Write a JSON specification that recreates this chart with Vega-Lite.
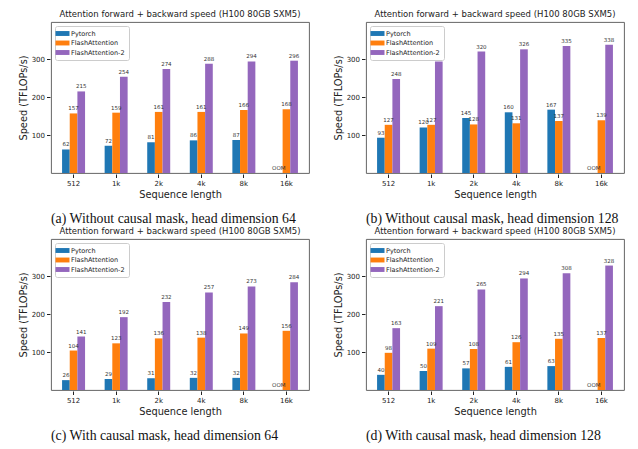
{
 "$schema": "https://vega.github.io/schema/vega-lite/v6.json",
 "background": "white",
 "padding": {"left": 18, "top": 9, "right": 5, "bottom": 0},
 "config": {
  "font": "DejaVu Sans",
  "view": {"stroke": "#555", "strokeWidth": 0.9},
  "axis": {"grid": false, "domain": false, "tickColor": "#222", "tickSize": 3.5, "labelPadding": 2, "labelColor": "#222", "labelFontSize": 7, "titleFontSize": 9.8, "titleFontWeight": "normal", "titleColor": "#222", "titlePadding": 3},
  "axisX": {"titlePadding": 3},
  "header": {"titleOrient": "bottom", "labelOrient": "top", "labelFontSize": 8.5, "labelColor": "#222", "labelPadding": 3, "titleFont": "Liberation Serif", "titleFontSize": 13.8, "titleFontWeight": "normal", "titleColor": "#111", "titlePadding": 2, "titleAnchor": "start"},
  "legend": {"orient": "top-left", "title": null, "labelFontSize": 6.5, "labelColor": "#222", "symbolType": "M-2,-0.7H2V0.7H-2Z", "symbolSize": 49, "symbolStrokeWidth": 0, "strokeColor": "#ccc", "padding": 4, "cornerRadius": 2, "fillColor": "white", "offset": 3.5, "rowPadding": 2.5, "labelOffset": 5}
 },
 "datasets": {
  "d": [
   {"panel": "a", "head": "Attention forward + backward speed (H100 80GB SXM5)", "seq": "512", "method": "Pytorch", "value": 62, "label": "62"},
   {"panel": "a", "head": "Attention forward + backward speed (H100 80GB SXM5)", "seq": "1k", "method": "Pytorch", "value": 72, "label": "72"},
   {"panel": "a", "head": "Attention forward + backward speed (H100 80GB SXM5)", "seq": "2k", "method": "Pytorch", "value": 81, "label": "81"},
   {"panel": "a", "head": "Attention forward + backward speed (H100 80GB SXM5)", "seq": "4k", "method": "Pytorch", "value": 86, "label": "86"},
   {"panel": "a", "head": "Attention forward + backward speed (H100 80GB SXM5)", "seq": "8k", "method": "Pytorch", "value": 87, "label": "87"},
   {"panel": "a", "head": "Attention forward + backward speed (H100 80GB SXM5)", "seq": "16k", "method": "Pytorch", "value": 0, "label": "OOM"},
   {"panel": "a", "head": "Attention forward + backward speed (H100 80GB SXM5)", "seq": "512", "method": "FlashAttention", "value": 157, "label": "157"},
   {"panel": "a", "head": "Attention forward + backward speed (H100 80GB SXM5)", "seq": "1k", "method": "FlashAttention", "value": 159, "label": "159"},
   {"panel": "a", "head": "Attention forward + backward speed (H100 80GB SXM5)", "seq": "2k", "method": "FlashAttention", "value": 161, "label": "161"},
   {"panel": "a", "head": "Attention forward + backward speed (H100 80GB SXM5)", "seq": "4k", "method": "FlashAttention", "value": 161, "label": "161"},
   {"panel": "a", "head": "Attention forward + backward speed (H100 80GB SXM5)", "seq": "8k", "method": "FlashAttention", "value": 166, "label": "166"},
   {"panel": "a", "head": "Attention forward + backward speed (H100 80GB SXM5)", "seq": "16k", "method": "FlashAttention", "value": 168, "label": "168"},
   {"panel": "a", "head": "Attention forward + backward speed (H100 80GB SXM5)", "seq": "512", "method": "FlashAttention-2", "value": 215, "label": "215"},
   {"panel": "a", "head": "Attention forward + backward speed (H100 80GB SXM5)", "seq": "1k", "method": "FlashAttention-2", "value": 254, "label": "254"},
   {"panel": "a", "head": "Attention forward + backward speed (H100 80GB SXM5)", "seq": "2k", "method": "FlashAttention-2", "value": 274, "label": "274"},
   {"panel": "a", "head": "Attention forward + backward speed (H100 80GB SXM5)", "seq": "4k", "method": "FlashAttention-2", "value": 288, "label": "288"},
   {"panel": "a", "head": "Attention forward + backward speed (H100 80GB SXM5)", "seq": "8k", "method": "FlashAttention-2", "value": 294, "label": "294"},
   {"panel": "a", "head": "Attention forward + backward speed (H100 80GB SXM5)", "seq": "16k", "method": "FlashAttention-2", "value": 296, "label": "296"},
   {"panel": "b", "head": "Attention forward + backward speed (H100 80GB SXM5)", "seq": "512", "method": "Pytorch", "value": 93, "label": "93"},
   {"panel": "b", "head": "Attention forward + backward speed (H100 80GB SXM5)", "seq": "1k", "method": "Pytorch", "value": 120, "label": "120"},
   {"panel": "b", "head": "Attention forward + backward speed (H100 80GB SXM5)", "seq": "2k", "method": "Pytorch", "value": 145, "label": "145"},
   {"panel": "b", "head": "Attention forward + backward speed (H100 80GB SXM5)", "seq": "4k", "method": "Pytorch", "value": 160, "label": "160"},
   {"panel": "b", "head": "Attention forward + backward speed (H100 80GB SXM5)", "seq": "8k", "method": "Pytorch", "value": 167, "label": "167"},
   {"panel": "b", "head": "Attention forward + backward speed (H100 80GB SXM5)", "seq": "16k", "method": "Pytorch", "value": 0, "label": "OOM"},
   {"panel": "b", "head": "Attention forward + backward speed (H100 80GB SXM5)", "seq": "512", "method": "FlashAttention", "value": 127, "label": "127"},
   {"panel": "b", "head": "Attention forward + backward speed (H100 80GB SXM5)", "seq": "1k", "method": "FlashAttention", "value": 127, "label": "127"},
   {"panel": "b", "head": "Attention forward + backward speed (H100 80GB SXM5)", "seq": "2k", "method": "FlashAttention", "value": 128, "label": "128"},
   {"panel": "b", "head": "Attention forward + backward speed (H100 80GB SXM5)", "seq": "4k", "method": "FlashAttention", "value": 131, "label": "131"},
   {"panel": "b", "head": "Attention forward + backward speed (H100 80GB SXM5)", "seq": "8k", "method": "FlashAttention", "value": 137, "label": "137"},
   {"panel": "b", "head": "Attention forward + backward speed (H100 80GB SXM5)", "seq": "16k", "method": "FlashAttention", "value": 139, "label": "139"},
   {"panel": "b", "head": "Attention forward + backward speed (H100 80GB SXM5)", "seq": "512", "method": "FlashAttention-2", "value": 248, "label": "248"},
   {"panel": "b", "head": "Attention forward + backward speed (H100 80GB SXM5)", "seq": "1k", "method": "FlashAttention-2", "value": 294, "label": "294"},
   {"panel": "b", "head": "Attention forward + backward speed (H100 80GB SXM5)", "seq": "2k", "method": "FlashAttention-2", "value": 320, "label": "320"},
   {"panel": "b", "head": "Attention forward + backward speed (H100 80GB SXM5)", "seq": "4k", "method": "FlashAttention-2", "value": 326, "label": "326"},
   {"panel": "b", "head": "Attention forward + backward speed (H100 80GB SXM5)", "seq": "8k", "method": "FlashAttention-2", "value": 335, "label": "335"},
   {"panel": "b", "head": "Attention forward + backward speed (H100 80GB SXM5)", "seq": "16k", "method": "FlashAttention-2", "value": 338, "label": "338"},
   {"panel": "c", "head": "Attention forward + backward speed (H100 80GB SXM5)", "seq": "512", "method": "Pytorch", "value": 26, "label": "26"},
   {"panel": "c", "head": "Attention forward + backward speed (H100 80GB SXM5)", "seq": "1k", "method": "Pytorch", "value": 29, "label": "29"},
   {"panel": "c", "head": "Attention forward + backward speed (H100 80GB SXM5)", "seq": "2k", "method": "Pytorch", "value": 31, "label": "31"},
   {"panel": "c", "head": "Attention forward + backward speed (H100 80GB SXM5)", "seq": "4k", "method": "Pytorch", "value": 32, "label": "32"},
   {"panel": "c", "head": "Attention forward + backward speed (H100 80GB SXM5)", "seq": "8k", "method": "Pytorch", "value": 32, "label": "32"},
   {"panel": "c", "head": "Attention forward + backward speed (H100 80GB SXM5)", "seq": "16k", "method": "Pytorch", "value": 0, "label": "OOM"},
   {"panel": "c", "head": "Attention forward + backward speed (H100 80GB SXM5)", "seq": "512", "method": "FlashAttention", "value": 104, "label": "104"},
   {"panel": "c", "head": "Attention forward + backward speed (H100 80GB SXM5)", "seq": "1k", "method": "FlashAttention", "value": 123, "label": "123"},
   {"panel": "c", "head": "Attention forward + backward speed (H100 80GB SXM5)", "seq": "2k", "method": "FlashAttention", "value": 136, "label": "136"},
   {"panel": "c", "head": "Attention forward + backward speed (H100 80GB SXM5)", "seq": "4k", "method": "FlashAttention", "value": 138, "label": "138"},
   {"panel": "c", "head": "Attention forward + backward speed (H100 80GB SXM5)", "seq": "8k", "method": "FlashAttention", "value": 149, "label": "149"},
   {"panel": "c", "head": "Attention forward + backward speed (H100 80GB SXM5)", "seq": "16k", "method": "FlashAttention", "value": 156, "label": "156"},
   {"panel": "c", "head": "Attention forward + backward speed (H100 80GB SXM5)", "seq": "512", "method": "FlashAttention-2", "value": 141, "label": "141"},
   {"panel": "c", "head": "Attention forward + backward speed (H100 80GB SXM5)", "seq": "1k", "method": "FlashAttention-2", "value": 192, "label": "192"},
   {"panel": "c", "head": "Attention forward + backward speed (H100 80GB SXM5)", "seq": "2k", "method": "FlashAttention-2", "value": 232, "label": "232"},
   {"panel": "c", "head": "Attention forward + backward speed (H100 80GB SXM5)", "seq": "4k", "method": "FlashAttention-2", "value": 257, "label": "257"},
   {"panel": "c", "head": "Attention forward + backward speed (H100 80GB SXM5)", "seq": "8k", "method": "FlashAttention-2", "value": 273, "label": "273"},
   {"panel": "c", "head": "Attention forward + backward speed (H100 80GB SXM5)", "seq": "16k", "method": "FlashAttention-2", "value": 284, "label": "284"},
   {"panel": "d", "head": "Attention forward + backward speed (H100 80GB SXM5)", "seq": "512", "method": "Pytorch", "value": 40, "label": "40"},
   {"panel": "d", "head": "Attention forward + backward speed (H100 80GB SXM5)", "seq": "1k", "method": "Pytorch", "value": 50, "label": "50"},
   {"panel": "d", "head": "Attention forward + backward speed (H100 80GB SXM5)", "seq": "2k", "method": "Pytorch", "value": 57, "label": "57"},
   {"panel": "d", "head": "Attention forward + backward speed (H100 80GB SXM5)", "seq": "4k", "method": "Pytorch", "value": 61, "label": "61"},
   {"panel": "d", "head": "Attention forward + backward speed (H100 80GB SXM5)", "seq": "8k", "method": "Pytorch", "value": 63, "label": "63"},
   {"panel": "d", "head": "Attention forward + backward speed (H100 80GB SXM5)", "seq": "16k", "method": "Pytorch", "value": 0, "label": "OOM"},
   {"panel": "d", "head": "Attention forward + backward speed (H100 80GB SXM5)", "seq": "512", "method": "FlashAttention", "value": 98, "label": "98"},
   {"panel": "d", "head": "Attention forward + backward speed (H100 80GB SXM5)", "seq": "1k", "method": "FlashAttention", "value": 109, "label": "109"},
   {"panel": "d", "head": "Attention forward + backward speed (H100 80GB SXM5)", "seq": "2k", "method": "FlashAttention", "value": 108, "label": "108"},
   {"panel": "d", "head": "Attention forward + backward speed (H100 80GB SXM5)", "seq": "4k", "method": "FlashAttention", "value": 126, "label": "126"},
   {"panel": "d", "head": "Attention forward + backward speed (H100 80GB SXM5)", "seq": "8k", "method": "FlashAttention", "value": 135, "label": "135"},
   {"panel": "d", "head": "Attention forward + backward speed (H100 80GB SXM5)", "seq": "16k", "method": "FlashAttention", "value": 137, "label": "137"},
   {"panel": "d", "head": "Attention forward + backward speed (H100 80GB SXM5)", "seq": "512", "method": "FlashAttention-2", "value": 163, "label": "163"},
   {"panel": "d", "head": "Attention forward + backward speed (H100 80GB SXM5)", "seq": "1k", "method": "FlashAttention-2", "value": 221, "label": "221"},
   {"panel": "d", "head": "Attention forward + backward speed (H100 80GB SXM5)", "seq": "2k", "method": "FlashAttention-2", "value": 265, "label": "265"},
   {"panel": "d", "head": "Attention forward + backward speed (H100 80GB SXM5)", "seq": "4k", "method": "FlashAttention-2", "value": 294, "label": "294"},
   {"panel": "d", "head": "Attention forward + backward speed (H100 80GB SXM5)", "seq": "8k", "method": "FlashAttention-2", "value": 308, "label": "308"},
   {"panel": "d", "head": "Attention forward + backward speed (H100 80GB SXM5)", "seq": "16k", "method": "FlashAttention-2", "value": 328, "label": "328"}
  ]
 },
 "data": {"name": "d"},
 "columns": 2,
 "spacing": {"row": 0, "column": 23},
 "resolve": {"scale": {"color": "independent"}, "legend": {"color": "independent"}},
 "concat": [
  {"transform": [{"filter": "datum.panel == 'a'"}],
   "facet": {"column": {"field": "head", "title": "(a) Without causal mask, head dimension 64"}},
   "spec": {"width": 258, "height": 151, "layer": [
    {"mark": {"type": "bar"}, "encoding": {
      "x": {"field": "seq", "type": "nominal", "sort": ["512","1k","2k","4k","8k","16k"], "scale": {"paddingInner": 0.46, "paddingOuter": 0.26}, "axis": {"labelAngle": 0, "title": "Sequence length"}},
      "xOffset": {"field": "method", "type": "nominal", "sort": ["Pytorch","FlashAttention","FlashAttention-2"], "scale": {"paddingInner": 0, "paddingOuter": 0}},
      "y": {"field": "value", "type": "quantitative", "scale": {"domain": [0, 398], "nice": false}, "axis": {"values": [100,200,300], "title": "Speed (TFLOPs/s)"}},
      "color": {"field": "method", "type": "nominal", "sort": ["Pytorch","FlashAttention","FlashAttention-2"], "scale": {"domain": ["Pytorch","FlashAttention","FlashAttention-2"], "range": ["#1f77b4","#ff7f0e","#9467bd"]}}}},
    {"mark": {"type": "text", "fontSize": 5.5, "baseline": "bottom", "dy": -2, "color": "#333"}, "encoding": {
      "x": {"field": "seq", "type": "nominal", "sort": ["512","1k","2k","4k","8k","16k"]},
      "xOffset": {"field": "method", "type": "nominal", "sort": ["Pytorch","FlashAttention","FlashAttention-2"]},
      "y": {"field": "value", "type": "quantitative"},
      "text": {"field": "label"}}}
   ]}},
  {"transform": [{"filter": "datum.panel == 'b'"}],
   "facet": {"column": {"field": "head", "title": "(b) Without causal mask, head dimension 128"}},
   "spec": {"width": 258, "height": 151, "layer": [
    {"mark": {"type": "bar"}, "encoding": {
      "x": {"field": "seq", "type": "nominal", "sort": ["512","1k","2k","4k","8k","16k"], "scale": {"paddingInner": 0.46, "paddingOuter": 0.26}, "axis": {"labelAngle": 0, "title": "Sequence length"}},
      "xOffset": {"field": "method", "type": "nominal", "sort": ["Pytorch","FlashAttention","FlashAttention-2"], "scale": {"paddingInner": 0, "paddingOuter": 0}},
      "y": {"field": "value", "type": "quantitative", "scale": {"domain": [0, 398], "nice": false}, "axis": {"values": [100,200,300], "title": "Speed (TFLOPs/s)"}},
      "color": {"field": "method", "type": "nominal", "sort": ["Pytorch","FlashAttention","FlashAttention-2"], "scale": {"domain": ["Pytorch","FlashAttention","FlashAttention-2"], "range": ["#1f77b4","#ff7f0e","#9467bd"]}}}},
    {"mark": {"type": "text", "fontSize": 5.5, "baseline": "bottom", "dy": -2, "color": "#333"}, "encoding": {
      "x": {"field": "seq", "type": "nominal", "sort": ["512","1k","2k","4k","8k","16k"]},
      "xOffset": {"field": "method", "type": "nominal", "sort": ["Pytorch","FlashAttention","FlashAttention-2"]},
      "y": {"field": "value", "type": "quantitative"},
      "text": {"field": "label"}}}
   ]}},
  {"transform": [{"filter": "datum.panel == 'c'"}],
   "facet": {"column": {"field": "head", "title": "(c) With causal mask, head dimension 64"}},
   "spec": {"width": 258, "height": 151, "layer": [
    {"mark": {"type": "bar"}, "encoding": {
      "x": {"field": "seq", "type": "nominal", "sort": ["512","1k","2k","4k","8k","16k"], "scale": {"paddingInner": 0.46, "paddingOuter": 0.26}, "axis": {"labelAngle": 0, "title": "Sequence length"}},
      "xOffset": {"field": "method", "type": "nominal", "sort": ["Pytorch","FlashAttention","FlashAttention-2"], "scale": {"paddingInner": 0, "paddingOuter": 0}},
      "y": {"field": "value", "type": "quantitative", "scale": {"domain": [0, 398], "nice": false}, "axis": {"values": [100,200,300], "title": "Speed (TFLOPs/s)"}},
      "color": {"field": "method", "type": "nominal", "sort": ["Pytorch","FlashAttention","FlashAttention-2"], "scale": {"domain": ["Pytorch","FlashAttention","FlashAttention-2"], "range": ["#1f77b4","#ff7f0e","#9467bd"]}}}},
    {"mark": {"type": "text", "fontSize": 5.5, "baseline": "bottom", "dy": -2, "color": "#333"}, "encoding": {
      "x": {"field": "seq", "type": "nominal", "sort": ["512","1k","2k","4k","8k","16k"]},
      "xOffset": {"field": "method", "type": "nominal", "sort": ["Pytorch","FlashAttention","FlashAttention-2"]},
      "y": {"field": "value", "type": "quantitative"},
      "text": {"field": "label"}}}
   ]}},
  {"transform": [{"filter": "datum.panel == 'd'"}],
   "facet": {"column": {"field": "head", "title": "(d) With causal mask, head dimension 128"}},
   "spec": {"width": 258, "height": 151, "layer": [
    {"mark": {"type": "bar"}, "encoding": {
      "x": {"field": "seq", "type": "nominal", "sort": ["512","1k","2k","4k","8k","16k"], "scale": {"paddingInner": 0.46, "paddingOuter": 0.26}, "axis": {"labelAngle": 0, "title": "Sequence length"}},
      "xOffset": {"field": "method", "type": "nominal", "sort": ["Pytorch","FlashAttention","FlashAttention-2"], "scale": {"paddingInner": 0, "paddingOuter": 0}},
      "y": {"field": "value", "type": "quantitative", "scale": {"domain": [0, 398], "nice": false}, "axis": {"values": [100,200,300], "title": "Speed (TFLOPs/s)"}},
      "color": {"field": "method", "type": "nominal", "sort": ["Pytorch","FlashAttention","FlashAttention-2"], "scale": {"domain": ["Pytorch","FlashAttention","FlashAttention-2"], "range": ["#1f77b4","#ff7f0e","#9467bd"]}}}},
    {"mark": {"type": "text", "fontSize": 5.5, "baseline": "bottom", "dy": -2, "color": "#333"}, "encoding": {
      "x": {"field": "seq", "type": "nominal", "sort": ["512","1k","2k","4k","8k","16k"]},
      "xOffset": {"field": "method", "type": "nominal", "sort": ["Pytorch","FlashAttention","FlashAttention-2"]},
      "y": {"field": "value", "type": "quantitative"},
      "text": {"field": "label"}}}
   ]}}
 ]
}
